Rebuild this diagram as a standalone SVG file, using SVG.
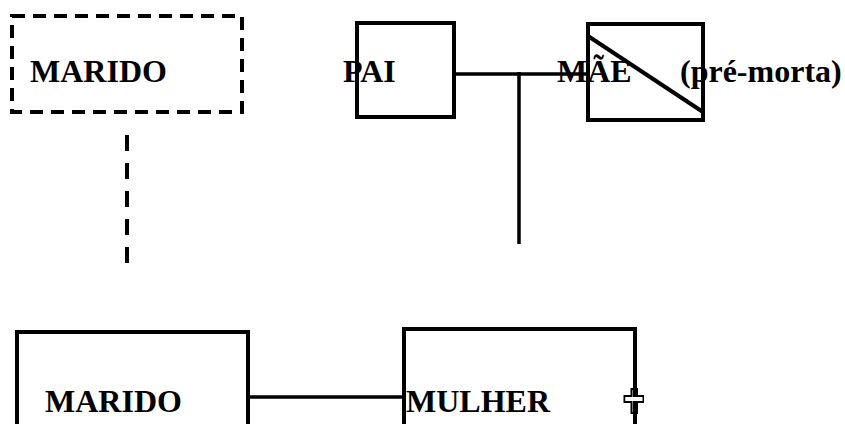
<svg xmlns="http://www.w3.org/2000/svg" width="845" height="424" viewBox="0 0 845 424">
<style>
.t{font-family:"Liberation Serif","Times New Roman",serif;font-weight:bold;font-size:32px;fill:#000}
.b{fill:none;stroke:#000;stroke-width:4}
.c{fill:none;stroke:#000;stroke-width:3.5}
</style>
<rect width="845" height="424" fill="#fff"/>
<g id="marido-top">
<text class="t" x="30" y="82">MARIDO</text>
<rect class="b" x="12" y="16" width="230" height="96" stroke-dasharray="13 8"/>
</g>
<g id="pai">
<text class="t" x="343" y="82">PAI</text>
<rect class="b" x="357" y="23" width="97" height="94"/>
</g>
<g id="mae">
<text class="t" x="557" y="82">MÃE</text>
<text class="t" x="680" y="82">(pré-morta)</text>
<rect class="b" x="588" y="24" width="115" height="96"/>
<line class="b" x1="588" y1="36" x2="703" y2="112"/>
</g>
<g id="marido-bottom">
<text class="t" x="45" y="412">MARIDO</text>
<rect class="b" x="17" y="332" width="231" height="110"/>
</g>
<g id="mulher">
<text class="t" x="406" y="412">MULHER</text>
<rect class="b" x="404" y="329" width="231" height="110"/>
<path d="M631.5 389 H637 V396 H643 V402 H637 V413 H631.5 V402 H624.5 V396 H631.5 Z" fill="#fff" stroke="#000" stroke-width="2"/>
<line x1="634.5" y1="389" x2="634.5" y2="413" stroke="#000" stroke-width="3"/>
<rect x="625.5" y="397" width="17" height="4" fill="#fff"/>
</g>
<g id="connectors">
<line class="b" x1="127" y1="135" x2="127" y2="263" stroke-dasharray="16 12"/>
<line class="c" x1="454" y1="74" x2="588" y2="74"/>
<line class="c" x1="519" y1="72" x2="519" y2="244"/>
<line class="c" x1="248" y1="397" x2="404" y2="397"/>
</g>
</svg>
